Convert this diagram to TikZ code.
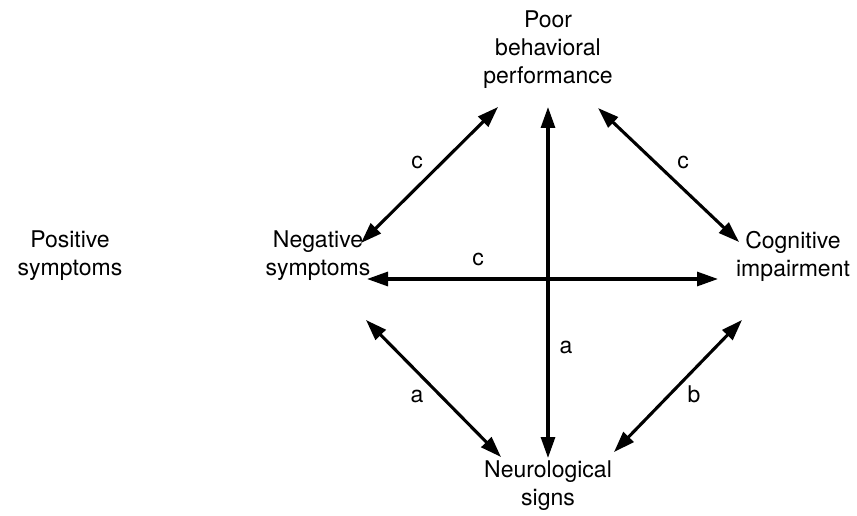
\documentclass[tikz,border=0pt]{standalone}
\usepackage{fontspec}
\setmainfont{TeX Gyre Heros}
\usetikzlibrary{arrows.meta}
\begin{document}
\begin{tikzpicture}[x=1pt,y=-1pt,
  lbl/.style={align=center,font=\fontsize{23}{28}\selectfont,inner sep=0pt},
  tag/.style={font=\fontsize{23}{28}\selectfont,inner sep=0pt},
  link/.style={line width=3.1pt,{Triangle[length=21pt,width=14pt]}-{Triangle[length=21pt,width=14pt]}}]
\useasboundingbox (0,0) rectangle (857,516);
\node[lbl] (poor) at (548,50) {Poor\\behavioral\\performance};
\node[lbl] (pos) at (70,256) {Positive\\symptoms};
\node[lbl] (neg) at (318,256) {Negative\\symptoms};
\node[lbl] (cog) at (793,256) {Cognitive\\impairment};
\node[lbl] (neuro) at (548,486) {Neurological\\signs};
% arrow end points
\coordinate (pT) at (548,107);
\coordinate (nB) at (548,458);
\coordinate (negR) at (367,279);
\coordinate (cogL) at (718,279);
\coordinate (pL) at (498,107);
\coordinate (negU) at (361,243);
\coordinate (pR) at (598,108);
\coordinate (cogU) at (739,242);
\coordinate (negD) at (366,320);
\coordinate (nL) at (501,457);
\coordinate (cogD) at (742,320);
\coordinate (nR) at (614,452);
\draw[link] (pT) -- (nB);
\draw[link] (negR) -- (cogL);
\draw[link] (negU) -- (pL);
\draw[link] (pR) -- (cogU);
\draw[link] (negD) -- (nL);
\draw[link] (cogD) -- (nR);
\node[tag] (c1) at (417,162) {c};
\node[tag] (c2) at (683,162) {c};
\node[tag] (c3) at (478,259) {c};
\node[tag] (a1) at (566,347) {a};
\node[tag] (a2) at (417,396) {a};
\node[tag] (b1) at (694,394) {b};
\end{tikzpicture}
\end{document}
